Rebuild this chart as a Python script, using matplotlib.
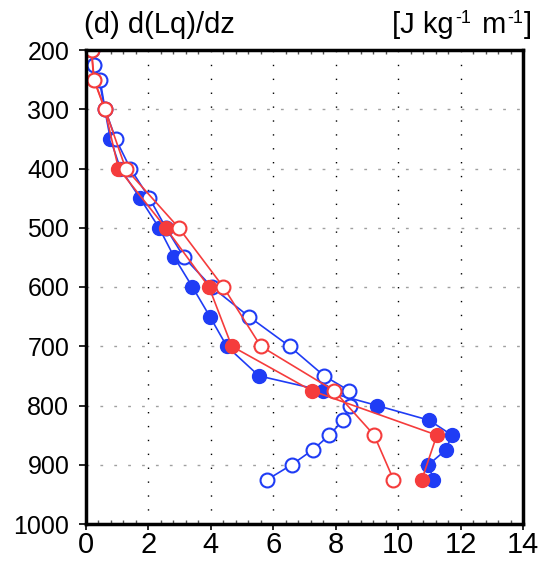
import numpy as np
import matplotlib
matplotlib.use("Agg")
import matplotlib.pyplot as plt
from matplotlib.ticker import MultipleLocator

plt.rcParams['font.family'] = ['Liberation Sans', 'DejaVu Sans']

# pressure levels [hPa]
lev_blue = [200, 225, 250, 300, 350, 400, 450, 500, 550, 600, 650, 700,
            750, 775, 800, 825, 850, 875, 900, 925]
lev_red = [200, 250, 300, 400, 500, 600, 700, 775, 850, 925]

# d(Lq)/dz values
blue_filled = [0.17, 0.26, 0.42, 0.60, 0.78, 1.10, 1.73, 2.34, 2.83, 3.41, 3.97, 4.51,
               5.54, 7.59, 9.32, 11.0, 11.72, 11.53, 10.97, 11.13]
blue_open = [0.18, 0.26, 0.45, 0.61, 0.95, 1.42, 2.03, 2.56, 3.14, 4.03, 5.22, 6.52,
             7.63, 8.43, 8.46, 8.23, 7.80, 7.26, 6.59, 5.81]
red_filled = [0.17, 0.25, 0.60, 1.04, 2.55, 3.94, 4.67, 7.23, 11.24, 10.76]
red_open = [0.18, 0.26, 0.61, 1.27, 2.97, 4.40, 5.60, 7.95, 9.23, 9.85]

blue = '#1f3cf5'
red = '#f53c3c'

W, H = 543, 564
fig = plt.figure(figsize=(W / 100, H / 100), dpi=100)
ax = fig.add_axes([86 / W, 1 - 524 / H, 437 / W, 474 / H])

# grid lines
for x in range(2, 14, 2):
    ax.axvline(x, color='black', lw=1.0, ls=(0, (1, 9)), zorder=1)
for p in range(300, 1000, 100):
    ax.axhline(p, color='#a0a0a0', lw=1.0, ls=(0, (2, 8)), zorder=1)

ms = 10
lw = 1.2
ax.plot(blue_filled, lev_blue, '-o', color=blue, mfc=blue, mec=blue,
        ms=ms, lw=lw, zorder=3)
ax.plot(blue_open, lev_blue, '-o', color=blue, mfc='white', mec=blue, mew=1.5,
        ms=ms, lw=lw, zorder=3)
ax.plot(red_filled, lev_red, '-o', color=red, mfc=red, mec=red,
        ms=ms, lw=lw, zorder=4)
ax.plot(red_open, lev_red, '-o', color=red, mfc='white', mec=red, mew=1.5,
        ms=ms, lw=lw, zorder=4)

ax.set_xlim(0, 14)
ax.set_ylim(1000, 200)
ax.xaxis.set_major_locator(MultipleLocator(2))
ax.xaxis.set_minor_locator(MultipleLocator(0.4))
ax.yaxis.set_major_locator(MultipleLocator(100))

for s in ax.spines.values():
    s.set_linewidth(2.5)
    s.set_zorder(5)

ax.tick_params(axis='x', which='major', direction='out', length=4, width=1.2,
               labelsize=21, pad=1)
ax.tick_params(axis='x', which='minor', direction='in', length=3, width=1,
               top=True, color='#555555')
ax.tick_params(axis='y', which='major', direction='out', length=5, width=1.2,
               labelsize=18, pad=7)

# titles
base_y = (H - 33) / H
fig.text(84 / W, base_y, '(d) d(Lq)/dz', fontsize=21, va='baseline', ha='left')

# right title built piece by piece (small raised exponents)
pieces = [('[J kg', 21, 0, 1), ('-1', 13, 10, 3), (' m', 21, 0, 1), ('-1', 13, 10, 1), (']', 21, 0, 0)]
r = fig.canvas.get_renderer()
texts = []
total = 0
for s, size, dy, gap in pieces:
    t = fig.text(0, base_y + dy / H, s, fontsize=size, va='baseline', ha='left')
    w = t.get_window_extent(r).width + gap
    texts.append((t, w))
    total += w
x = 532 - total
for t, w in texts:
    t.set_x(x / W)
    x += w

fig.savefig('out.png', dpi=100)
